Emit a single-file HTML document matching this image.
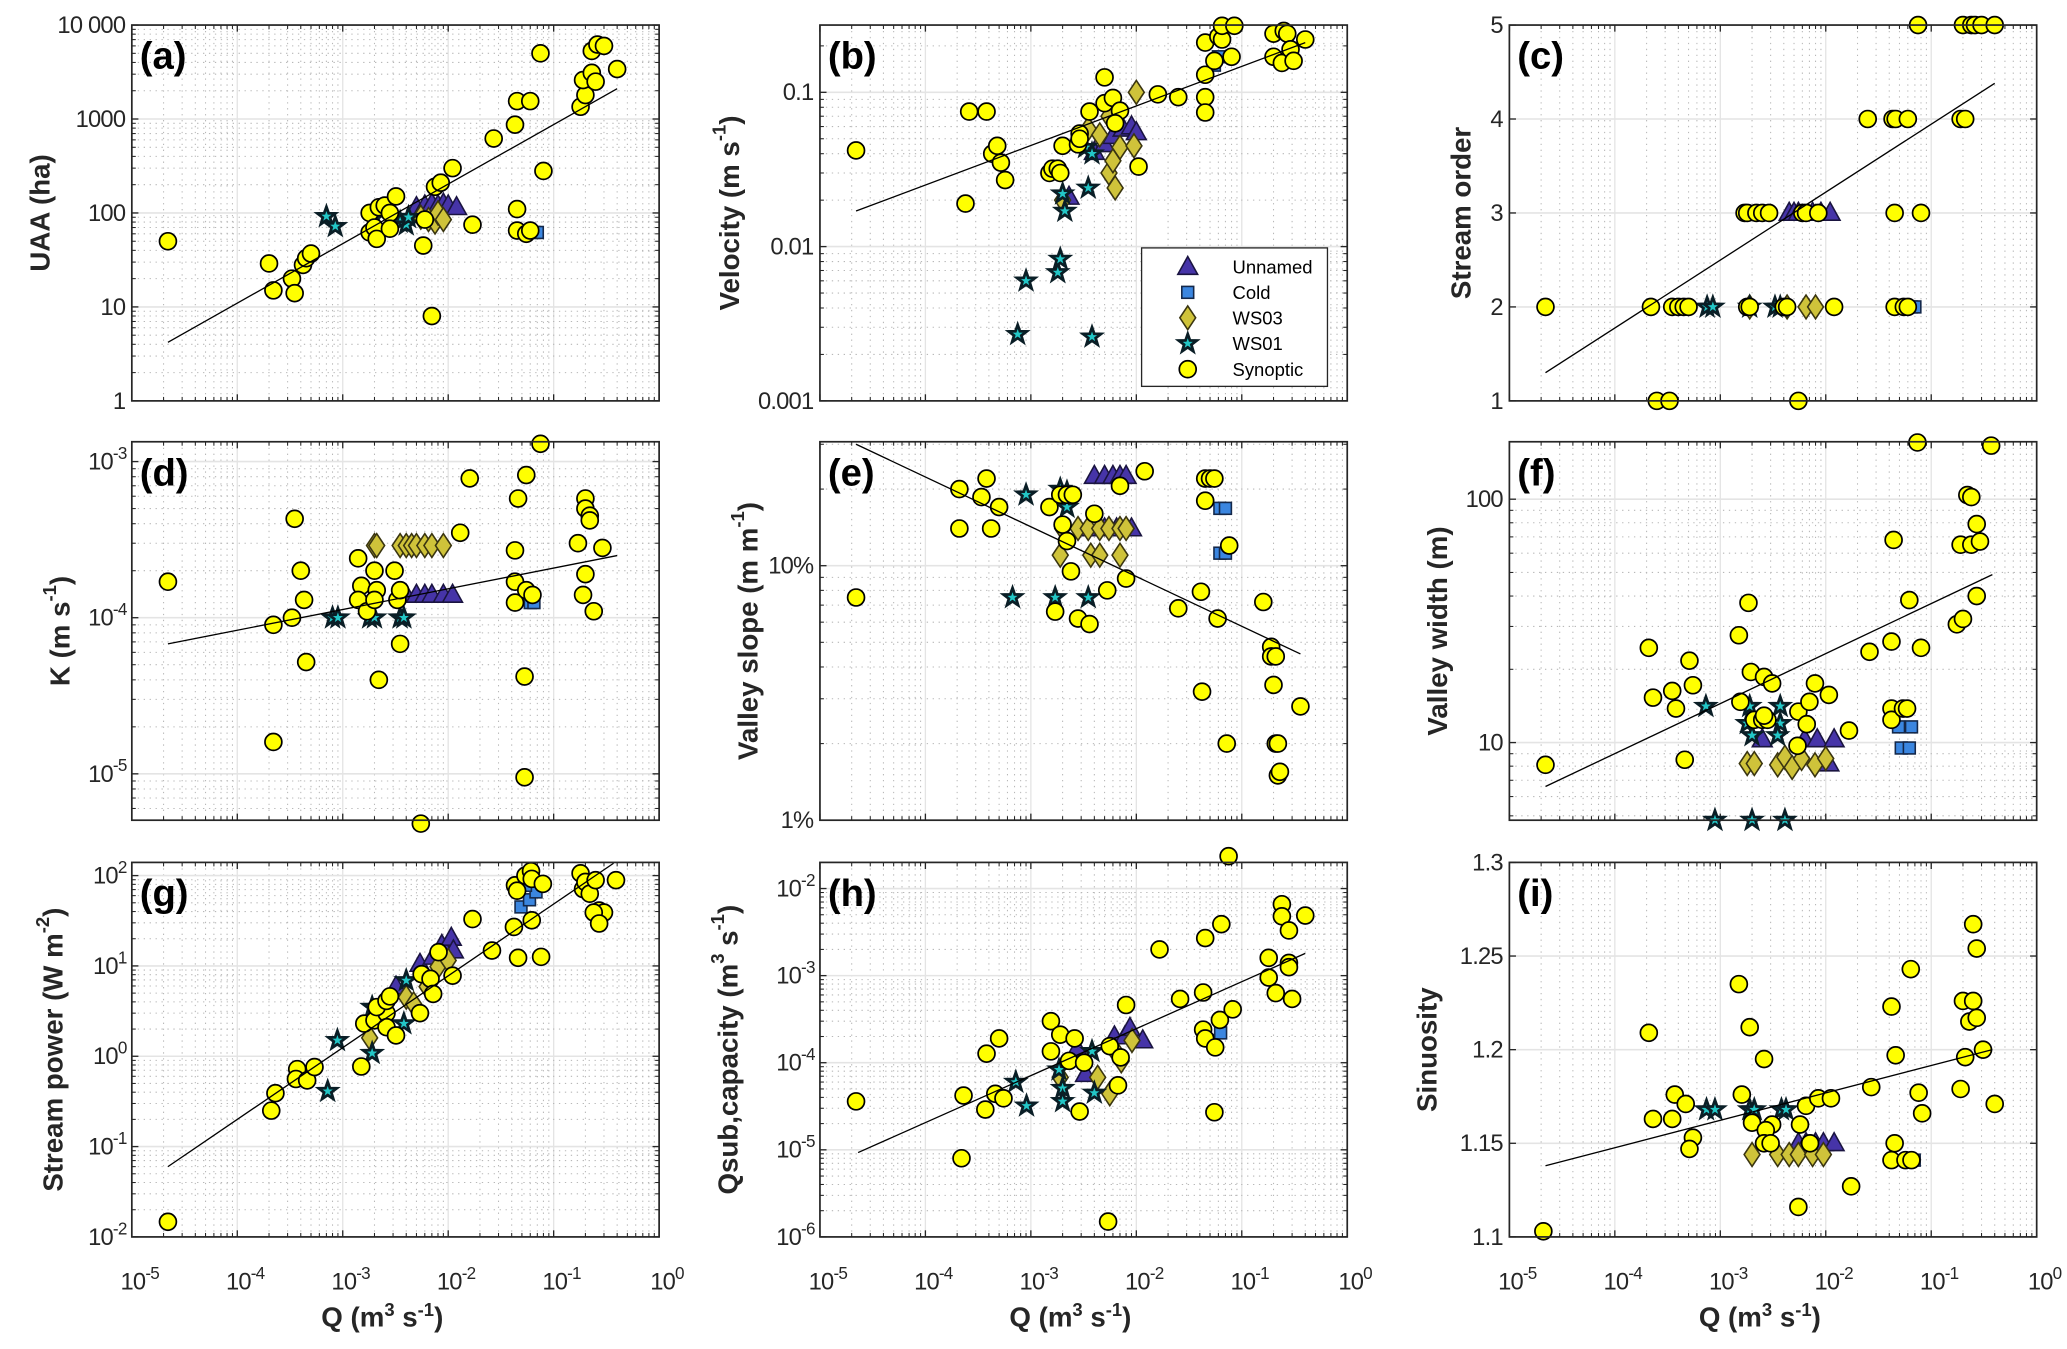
<!DOCTYPE html>
<html><head><meta charset="utf-8"><style>
html,body{margin:0;padding:0;background:#fff;}
svg{display:block;font-family:"Liberation Sans",Arial,sans-serif;}
</style></head><body>
<svg id="fig" width="2067" height="1349" viewBox="0 0 1568 1023" preserveAspectRatio="none" xmlns="http://www.w3.org/2000/svg">
<rect x="0" y="0" width="1568" height="1023" fill="#fff"/>
</svg>
<script>
// ---------- DATA (Q in m3/s, y in panel units) ----------
const aSyn=[[2.2e-5,50],[2.0e-4,29],[2.2e-4,15],[3.3e-4,20],[3.5e-4,14],[4.2e-4,28],[4.5e-4,33],[5e-4,37],[1.8e-3,100],[1.8e-3,62],[2.0e-3,70],[2.1e-3,53],[2.2e-3,115],[2.5e-3,120],[2.8e-3,100],[2.8e-3,68],[3.2e-3,150],[5.8e-3,45],[6e-3,85],[7e-3,8],[7.5e-3,190],[8.5e-3,210],[1.1e-2,300],[1.7e-2,75],[2.7e-2,620],[4.3e-2,870],[4.5e-2,1550],[6.0e-2,1550],[4.5e-2,65],[4.5e-2,110],[5.5e-2,60],[6.0e-2,65],[7.5e-2,5000],[8e-2,280],[0.18,1350],[0.2,1800],[0.19,2600],[0.23,3100],[0.25,2500],[0.23,5300],[0.26,6200],[0.3,6000],[0.4,3400]];
const aUnn=[[5e-3,115],[6e-3,120],[7e-3,125],[8e-3,120],[9e-3,125],[1.0e-2,120],[1.2e-2,115]];
const aWS03=[[5.5e-3,90],[6.5e-3,85],[7.5e-3,80],[8e-3,100],[9e-3,85]];
const aWS01=[[7e-4,92],[8.5e-4,72],[2e-3,90],[3.5e-3,80],[4e-3,75],[4.2e-3,90]];
const aCold=[[6.5e-2,62],[7e-2,62]];
const aFit=[[2.2e-5,4.2],[0.4,2100]];

const bSyn=[[2.2e-5,0.042],[2.4e-4,0.019],[2.6e-4,0.075],[3.8e-4,0.075],[4.3e-4,0.040],[4.8e-4,0.045],[5.2e-4,0.035],[5.7e-4,0.027],[1.5e-3,0.030],[1.6e-3,0.032],[1.8e-3,0.032],[1.9e-3,0.030],[2.0e-3,0.045],[2.8e-3,0.046],[2.9e-3,0.054],[2.9e-3,0.050],[3.6e-3,0.075],[5.0e-3,0.125],[5.0e-3,0.085],[6.0e-3,0.092],[7.0e-3,0.076],[6.3e-3,0.063],[1.05e-2,0.033],[1.6e-2,0.097],[2.5e-2,0.093],[4.5e-2,0.093],[4.5e-2,0.074],[4.5e-2,0.130],[4.5e-2,0.21],[6.0e-2,0.23],[5.5e-2,0.16],[6.5e-2,0.22],[6.5e-2,0.27],[8.0e-2,0.17],[8.5e-2,0.27],[0.2,0.24],[0.2,0.17],[0.24,0.155],[0.25,0.25],[0.27,0.24],[0.29,0.19],[0.31,0.16],[0.4,0.22]];
const bUnn=[[2.3e-3,0.021],[4e-3,0.041],[5e-3,0.046],[6e-3,0.052],[7.5e-3,0.058],[9e-3,0.06],[1.0e-2,0.055]];
const bWS03=[[2e-3,0.02],[3.5e-3,0.058],[4.5e-3,0.053],[5.5e-3,0.03],[6e-3,0.036],[6.3e-3,0.024],[7.0e-3,0.044],[9.5e-3,0.045],[1.0e-2,0.10],[5.5e-3,0.07]];
const bWS01=[[7.5e-4,0.0027],[9e-4,0.006],[1.8e-3,0.0068],[1.9e-3,0.0083],[2.1e-3,0.017],[2.0e-3,0.022],[3.3e-3,0.044],[3.5e-3,0.024],[3.8e-3,0.0026],[3.8e-3,0.04]];
const bCold=[[5.5e-2,0.15],[6e-2,0.17]];
const bFit=[[2.2e-5,0.017],[0.4,0.21]];

const cSyn=[[2.2e-5,2],[2.2e-4,2],[3.5e-4,2],[4.0e-4,2],[4.5e-4,2],[5e-4,2],[1.8e-3,2],[1.9e-3,2],[4.0e-3,2],[4.3e-3,2],[1.2e-2,2],[4.5e-2,2],[5.5e-2,2],[6e-2,2],[2.5e-4,1],[3.3e-4,1],[5.5e-3,1],[1.7e-3,3],[1.8e-3,3],[2.2e-3,3],[2.5e-3,3],[2.9e-3,3],[6e-3,3],[6.5e-3,3],[8.5e-3,3],[4.5e-2,3],[8e-2,3],[2.5e-2,4],[4.3e-2,4],[4.6e-2,4],[6e-2,4],[0.19,4],[0.21,4],[7.5e-2,5],[0.2,5],[0.24,5],[0.26,5],[0.3,5],[0.4,5]];
const cUnn=[[4.5e-3,3],[5e-3,3],[5.5e-3,3],[7.5e-3,3],[9e-3,3],[1.1e-2,3]];
const cWS03=[[1.9e-3,2],[4.3e-3,2],[6.5e-3,2],[8e-3,2]];
const cWS01=[[7.5e-4,2],[8.5e-4,2],[1.9e-3,2],[3.3e-3,2],[3.7e-3,2]];
const cCold=[[6.5e-2,2],[7e-2,2]];
const cFit=[[2.2e-5,1.3],[0.4,4.38]];

const dSyn=[[2.2e-5,1.7e-4],[2.2e-4,9e-5],[2.2e-4,1.6e-5],[3.3e-4,1.0e-4],[3.5e-4,4.3e-4],[4.0e-4,2.0e-4],[4.3e-4,1.3e-4],[4.5e-4,5.2e-5],[1.4e-3,2.4e-4],[1.5e-3,1.6e-4],[1.4e-3,1.3e-4],[1.7e-3,1.1e-4],[2.0e-3,2.0e-4],[2.1e-3,1.5e-4],[2.0e-3,1.3e-4],[2.2e-3,4e-5],[3.1e-3,2e-4],[3.3e-3,1.3e-4],[3.5e-3,1.5e-4],[3.5e-3,6.8e-5],[5.5e-3,4.8e-6],[1.6e-2,7.8e-4],[1.3e-2,3.5e-4],[4.3e-2,2.7e-4],[4.3e-2,1.7e-4],[4.3e-2,1.25e-4],[4.6e-2,5.8e-4],[5.5e-2,8.2e-4],[5.3e-2,4.2e-5],[5.3e-2,9.5e-6],[5.5e-2,1.5e-4],[6.3e-2,1.4e-4],[7.5e-2,1.3e-3],[0.17,3e-4],[0.2,1.9e-4],[0.19,1.4e-4],[0.2,5.8e-4],[0.2,5e-4],[0.22,4.5e-4],[0.22,4.2e-4],[0.24,1.1e-4],[0.29,2.8e-4]];
const dUnn=[[4e-3,1.4e-4],[5e-3,1.4e-4],[6e-3,1.4e-4],[7e-3,1.4e-4],[9e-3,1.4e-4],[1.1e-2,1.4e-4]];
const dWS03=[[2e-3,2.9e-4],[2.1e-3,2.9e-4],[3.5e-3,2.9e-4],[4e-3,2.9e-4],[4.5e-3,2.9e-4],[5e-3,2.9e-4],[6e-3,2.9e-4],[7e-3,2.9e-4],[9e-3,2.9e-4]];
const dWS01=[[8e-4,1e-4],[9e-4,1e-4],[1.8e-3,1e-4],[2e-3,1e-4],[3.5e-3,1e-4],[3.8e-3,1e-4]];
const dCold=[[6e-2,1.25e-4],[6.5e-2,1.25e-4]];
const dFit=[[2.2e-5,6.8e-5],[0.4,2.5e-4]];

const eSyn=[[2.2e-5,7.5],[2.1e-4,20],[3.8e-4,22],[3.4e-4,18.6],[5e-4,17],[2.1e-4,14],[4.2e-4,14],[1.5e-3,17],[1.9e-3,19],[2.2e-3,19],[2.5e-3,19],[4.0e-3,16],[2.0e-3,14.5],[2.2e-3,12.5],[2.4e-3,9.5],[1.7e-3,6.6],[2.8e-3,6.2],[3.6e-3,5.9],[5.3e-3,8],[8e-3,8.9],[7e-3,20.6],[1.2e-2,23.5],[4.5e-2,22],[5.0e-2,22],[5.5e-2,22],[4.5e-2,18],[7.6e-2,12],[4.1e-2,7.9],[2.5e-2,6.8],[5.9e-2,6.2],[4.2e-2,3.2],[7.2e-2,2.0],[0.16,7.2],[0.19,4.8],[0.19,4.4],[0.21,4.4],[0.2,3.4],[0.36,2.8],[0.21,2.0],[0.22,2.0],[0.22,1.5],[0.23,1.55]];
const eUnn=[[4e-3,22.5],[5e-3,22.5],[6e-3,22.5],[7e-3,22.5],[8e-3,22.5],[3.5e-3,14],[5e-3,14],[6.5e-3,14],[8e-3,14],[9e-3,14]];
const eWS03=[[2e-3,14],[2.8e-3,14],[3.5e-3,14],[4.5e-3,14],[5.5e-3,14],[7e-3,14],[8e-3,14],[1.9e-3,11],[3.7e-3,11],[4.5e-3,11],[7e-3,11]];
const eWS01=[[9e-4,19],[1.9e-3,20],[2.2e-3,19.5],[2.2e-3,17],[6.7e-4,7.5],[1.7e-3,7.5],[3.5e-3,7.5]];
const eCold=[[6.2e-2,16.8],[7e-2,16.8],[6.2e-2,11.2],[7e-2,11.2]];
const eFit=[[2.2e-5,30],[0.36,4.5]];

const fSyn=[[2.2e-5,8.1],[2.1e-4,24.5],[2.3e-4,15.3],[3.5e-4,16.3],[3.8e-4,13.8],[5.1e-4,21.7],[5.5e-4,17.2],[4.6e-4,8.5],[1.5e-3,27.6],[1.85e-3,37.5],[1.55e-3,14.7],[1.95e-3,19.5],[2.6e-3,18.6],[3.1e-3,17.5],[2.1e-3,12.4],[2.5e-3,12.4],[2.8e-3,12.4],[2.6e-3,12.9],[5.5e-3,13.4],[7e-3,14.7],[6.6e-3,11.9],[5.4e-3,9.7],[7.9e-3,17.5],[1.07e-2,15.7],[1.66e-2,11.2],[2.6e-2,23.6],[4.2e-2,26],[4.4e-2,68],[4.2e-2,13.8],[4.2e-2,12.4],[5.4e-2,13.8],[5.9e-2,13.8],[6.2e-2,38.5],[7.4e-2,171],[8e-2,24.5],[0.175,30.6],[0.2,32.2],[0.22,104],[0.24,102],[0.19,65],[0.24,65],[0.29,67],[0.27,79],[0.27,40],[0.37,166]];
const fUnn=[[2.5e-3,10.3],[6.3e-3,10.3],[8.3e-3,10.3],[1.2e-2,10.3],[1.07e-2,8.2]];
const fWS03=[[1.8e-3,8.2],[2.1e-3,8.2],[3.5e-3,8.1],[4.1e-3,8.7],[4.8e-3,7.9],[5.9e-3,8.6],[7.9e-3,8.1],[1.0e-2,8.6]];
const fWS01=[[7.3e-4,14.1],[1.9e-3,14.1],[3.7e-3,14.1],[1.8e-3,12],[3.7e-3,12],[2.0e-3,10.7],[3.5e-3,10.7],[8.9e-4,4.8],[2.0e-3,4.8],[4.1e-3,4.8]];
const fCold=[[4.9e-2,11.6],[6.5e-2,11.6],[5.2e-2,9.5],[6.2e-2,9.5]];
const fFit=[[2.2e-5,6.6],[0.38,49]];

const gSyn=[[2.2e-5,0.0147],[2.1e-4,0.25],[2.3e-4,0.39],[3.7e-4,0.72],[3.6e-4,0.56],[4.6e-4,0.54],[5.4e-4,0.76],[1.5e-3,0.77],[1.6e-3,2.3],[2.0e-3,2.5],[2.6e-3,3.0],[2.1e-3,3.5],[2.6e-3,4.1],[2.8e-3,4.6],[2.6e-3,2.1],[3.2e-3,1.7],[5.4e-3,3.0],[5.6e-3,8.1],[6.8e-3,7.2],[7.2e-3,4.9],[8.1e-3,14.2],[1.1e-2,7.8],[1.7e-2,33],[2.6e-2,14.8],[4.2e-2,27],[4.6e-2,12.3],[4.3e-2,78],[4.5e-2,68],[5.4e-2,100],[6.1e-2,112],[6.2e-2,92],[6.2e-2,32],[7.6e-2,12.6],[7.9e-2,81],[0.18,106],[0.19,71],[0.2,85],[0.22,63],[0.25,89],[0.27,41],[0.3,39],[0.24,39],[0.27,29.5],[0.39,89]];
const gUnn=[[3.2e-3,5.9],[5.4e-3,10.5],[7.2e-3,12.6],[8.7e-3,17],[1.07e-2,20.4],[1.12e-2,14.8]];
const gWS03=[[1.8e-3,1.6],[4e-3,4.5],[4.7e-3,3.8],[6.3e-3,5.9],[8e-3,9.8],[1e-2,11.5]];
const gWS01=[[7.2e-4,0.41],[8.9e-4,1.5],[1.9e-3,1.08],[3.8e-3,2.3],[4e-3,6.9],[1.9e-3,3.5]];
const gCold=[[4.9e-2,45],[5.9e-2,54],[6.8e-2,66],[5.4e-2,78]];
const gFit=[[2.2e-5,0.06],[0.37,137]];

const hSyn=[[2.2e-5,3.6e-5],[2.2e-4,8e-6],[2.3e-4,4.2e-5],[3.7e-4,2.9e-5],[3.8e-4,1.27e-4],[4.6e-4,4.4e-5],[5.5e-4,3.9e-5],[5e-4,1.9e-4],[1.55e-3,3e-4],[1.55e-3,1.35e-4],[1.9e-3,2.1e-4],[2.6e-3,1.9e-4],[2.3e-3,1.05e-4],[3.2e-3,1e-4],[2.9e-3,2.75e-5],[5.4e-3,1.5e-6],[5.6e-3,1.55e-4],[7.1e-3,1.15e-4],[6.7e-3,5.5e-5],[8e-3,4.6e-4],[1.66e-2,2e-3],[2.6e-2,5.4e-4],[4.3e-2,6.4e-4],[4.5e-2,2.7e-3],[6.4e-2,3.9e-3],[7.5e-2,2.35e-2],[4.3e-2,2.4e-4],[4.5e-2,1.9e-4],[5.5e-2,2.7e-5],[5.6e-2,1.5e-4],[6.2e-2,3.1e-4],[8.2e-2,4.1e-4],[0.18,9.5e-4],[0.21,6.3e-4],[0.18,1.6e-3],[0.24,6.6e-3],[0.24,4.8e-3],[0.28,3.3e-3],[0.28,1.4e-3],[0.28,1.25e-3],[0.3,5.4e-4],[0.4,4.9e-3]];
const hUnn=[[2.75e-3,1.45e-4],[3.3e-3,7.4e-5],[6.2e-3,2e-4],[7.8e-3,2e-4],[8.7e-3,2.5e-4],[1.15e-2,1.8e-4]];
const hWS03=[[1.9e-3,6.8e-5],[4.3e-3,6.8e-5],[5.6e-3,4.4e-5],[6.2e-3,1.4e-4],[7.2e-3,1.05e-4],[9.1e-3,1.8e-4]];
const hWS01=[[7.2e-4,6e-5],[9.1e-4,3.2e-5],[1.85e-3,8.3e-5],[2e-3,5.1e-5],[2e-3,3.6e-5],[3.8e-3,1.35e-4],[4e-3,4.5e-5]];
const hCold=[[5.3e-2,1.8e-4],[6.3e-2,2.2e-4]];
const hFit=[[2.3e-5,9.3e-6],[0.4,1.8e-3]];

const iSyn=[[2.1e-5,1.103],[2.1e-4,1.209],[2.3e-4,1.163],[3.5e-4,1.163],[3.7e-4,1.176],[4.7e-4,1.171],[5.5e-4,1.153],[5.1e-4,1.147],[1.5e-3,1.235],[1.9e-3,1.212],[1.6e-3,1.176],[2e-3,1.161],[3.1e-3,1.16],[2.7e-3,1.157],[5.7e-3,1.16],[6.5e-3,1.17],[2.6e-3,1.195],[2.6e-3,1.15],[3e-3,1.15],[5.5e-3,1.116],[7.1e-3,1.15],[8.5e-3,1.174],[1.12e-2,1.174],[1.74e-2,1.127],[2.7e-2,1.18],[4.2e-2,1.223],[4.6e-2,1.197],[4.5e-2,1.15],[4.2e-2,1.141],[5.7e-2,1.141],[6.5e-2,1.141],[6.4e-2,1.243],[7.6e-2,1.177],[8.2e-2,1.166],[0.19,1.179],[0.2,1.226],[0.25,1.226],[0.23,1.215],[0.27,1.217],[0.21,1.196],[0.31,1.2],[0.25,1.267],[0.27,1.254],[0.4,1.171]];
const iUnn=[[5.5e-3,1.15],[6.5e-3,1.15],[8e-3,1.15],[9.5e-3,1.15],[1.2e-2,1.15]];
const iWS03=[[2e-3,1.144],[3.5e-3,1.144],[4.5e-3,1.144],[5.5e-3,1.144],[7.5e-3,1.144],[9.5e-3,1.144]];
const iWS01=[[7.4e-4,1.168],[8.9e-4,1.168],[1.9e-3,1.168],[2.1e-3,1.168],[3.8e-3,1.168],[4.2e-3,1.168]];
const iCold=[[6.9e-2,1.141]];
const iFit=[[2.2e-5,1.138],[0.38,1.2]];

const xTickVals=[1e-5,1e-4,1e-3,1e-2,1e-1,1];
const xTickLabels=['10^-5','10^-4','10^-3','10^-2','10^-1','10^0'];
const aTicks=[1,10,100,1000,10000], aTickLabels=['1','10','100','1000','10 000'];
const bTicks=[0.001,0.01,0.1], bTickLabels=['0.001','0.01','0.1'];
const cTicks=[1,2,3,4,5], cTickLabels=['1','2','3','4','5'];
const dTicks=[1e-5,1e-4,1e-3], dTickLabels=['10^-5','10^-4','10^-3'];
const eTicks=[1,10], eTickLabels=['1%','10%'];
const fTicks=[10,100], fTickLabels=['10','100'];
const gTicks=[1e-2,1e-1,1,10,100], gTickLabels=['10^-2','10^-1','10^0','10^1','10^2'];
const hTicks=[1e-6,1e-5,1e-4,1e-3,1e-2], hTickLabels=['10^-6','10^-5','10^-4','10^-3','10^-2'];
const iTicks=[1.1,1.15,1.2,1.25,1.3], iTickLabels=['1.1','1.15','1.2','1.25','1.3'];

// ---------- LAYOUT ----------
const NS='http://www.w3.org/2000/svg';
const svg=document.getElementById('fig');
const COLS=[100,622,1145], W=400, ROWS=[19,335,654], HS=[285,287,284];
const panels=[
 {id:'a',c:0,r:0,type:'log',min:0,max:4,ticks:aTicks,tl:aTickLabels,s:[aUnn,aCold,aWS03,aWS01,aSyn],fit:aFit,yl:[['UAA (ha)']],ylx:30},
 {id:'b',c:1,r:0,type:'log',min:-3,max:-0.564,ticks:bTicks,tl:bTickLabels,s:[bUnn,bCold,bWS03,bWS01,bSyn],fit:bFit,yl:[['Velocity (m s'],['-1',1],[')']],ylx:553},
 {id:'c',c:2,r:0,type:'lin',min:1,max:5,ticks:cTicks,tl:cTickLabels,s:[cUnn,cCold,cWS03,cWS01,cSyn],fit:cFit,yl:[['Stream order']],ylx:1108},
 {id:'d',c:0,r:1,type:'log',min:-5.297,max:-2.873,ticks:dTicks,tl:dTickLabels,s:[dUnn,dCold,dWS03,dWS01,dSyn],fit:dFit,yl:[['K (m s'],['-1',1],[')']],ylx:45},
 {id:'e',c:1,r:1,type:'log',min:0,max:1.487,ticks:eTicks,tl:eTickLabels,s:[eUnn,eCold,eWS03,eWS01,eSyn],fit:eFit,yl:[['Valley slope (m m'],['-1',1],[')']],ylx:567},
 {id:'f',c:2,r:1,type:'log',min:0.681,max:2.236,ticks:fTicks,tl:fTickLabels,s:[fUnn,fCold,fWS03,fWS01,fSyn],fit:fFit,yl:[['Valley width (m)']],ylx:1090},
 {id:'g',c:0,r:2,type:'log',min:-2,max:2.146,ticks:gTicks,tl:gTickLabels,s:[gUnn,gCold,gWS03,gWS01,gSyn],fit:gFit,yl:[['Stream power (W m'],['-2',1],[')']],ylx:40},
 {id:'h',c:1,r:2,type:'log',min:-6,max:-1.70,ticks:hTicks,tl:hTickLabels,s:[hUnn,hCold,hWS03,hWS01,hSyn],fit:hFit,yl:[['Qsub,capacity (m'],['3',1],[' s'],['-1',1],[')']],ylx:552},
 {id:'i',c:2,r:2,type:'lin',min:1.1,max:1.3,ticks:iTicks,tl:iTickLabels,s:[iUnn,iCold,iWS03,iWS01,iSyn],fit:iFit,yl:[['Sinuosity']],ylx:1082}
];
const seriesNames=['unnamed','cold','ws03','ws01','synoptic'];

function mk(tag,attrs,parent){const e=document.createElementNS(NS,tag);for(const k in attrs)e.setAttribute(k,attrs[k]);(parent||svg).appendChild(e);return e;}
function xScale(L,q){return L+(Math.log10(q)+5)/5*W;}
function yScale(p,T,H,v){const t=p.type==='log'?Math.log10(v):v;return T+H*(1-(t-p.min)/(p.max-p.min));}

function addLabel(parent,x,y,label,size,anchor,extra){
  const t=mk('text',Object.assign({x:x,y:y,'font-size':size,'text-anchor':anchor,fill:'#262626'},extra||{}),parent);
  const parts=label.split('^');
  const base=document.createElementNS(NS,'tspan');base.textContent=parts[0];t.appendChild(base);
  if(parts.length>1){const sp=document.createElementNS(NS,'tspan');sp.setAttribute('dy','-8');sp.setAttribute('font-size',size*0.72);sp.textContent=parts[1];t.appendChild(sp);}
  return t;
}
function marker(g,k,x,y){
  let e;
  if(k===4){e=mk('circle',{cx:x,cy:y,r:6.4,fill:'#ffff00',stroke:'#000','stroke-width':1.3},g);}
  else if(k===0){e=mk('polygon',{points:`${x},${y-8} ${x+7.5},${y+5.5} ${x-7.5},${y+5.5}`,fill:'#4634a8',stroke:'#1a1440','stroke-width':1.2},g);}
  else if(k===1){e=mk('rect',{x:x-4.5,y:y-4.5,width:9,height:9,fill:'#3b86e0',stroke:'#14284a','stroke-width':1.2},g);}
  else if(k===2){e=mk('polygon',{points:`${x},${y-9} ${x+6},${y} ${x},${y+9} ${x-6},${y}`,fill:'#cfc33a',stroke:'#3a3510','stroke-width':1.2},g);}
  else {let pts=[];for(let i=0;i<10;i++){const a=-Math.PI/2+i*Math.PI/5;const rr=i%2?2.9:7.2;pts.push((x+rr*Math.cos(a)).toFixed(2)+','+(y+rr*Math.sin(a)).toFixed(2));}
    e=mk('polygon',{points:pts.join(' '),fill:'#23c7c7',stroke:'#0a1e26','stroke-width':2.1,'stroke-linejoin':'miter'},g);}
  return e;
}

panels.forEach(p=>{
  const L=COLS[p.c],T=ROWS[p.r],H=HS[p.r];
  const g=mk('g',{});
  
  
  mk('rect',{x:L,y:T,width:W,height:H,fill:'#fff'},g);
  const grid=mk('g',{},g);
  
  
  for(let d=-5;d<0;d++){for(let k=2;k<=9;k++){const x=xScale(L,k*Math.pow(10,d));mk('line',{x1:x,y1:T,x2:x,y2:T+H,stroke:'#b8b8b8','stroke-width':0.8,'stroke-dasharray':'1,3.5'},grid);}}
  xTickVals.forEach(v=>{const x=xScale(L,v);mk('line',{x1:x,y1:T,x2:x,y2:T+H,stroke:'#e4e4e4','stroke-width':1},grid);});
  if(p.type==='log'){
    for(let d=Math.floor(p.min);d<Math.ceil(p.max);d++){for(let k=2;k<=9;k++){const v=k*Math.pow(10,d);const lv=Math.log10(v);if(lv<=p.min||lv>=p.max)continue;const y=yScale(p,T,H,v);mk('line',{x1:L,y1:y,x2:L+W,y2:y,stroke:'#b8b8b8','stroke-width':0.8,'stroke-dasharray':'1,3.5'},grid);
      mk('line',{x1:L,y1:y,x2:L+3,y2:y,stroke:'#262626','stroke-width':0.8},g);mk('line',{x1:L+W,y1:y,x2:L+W-3,y2:y,stroke:'#262626','stroke-width':0.8},g);}}
  }
  p.ticks.forEach((v,i)=>{const y=yScale(p,T,H,v);
    mk('line',{x1:L,y1:y,x2:L+W,y2:y,stroke:'#e4e4e4','stroke-width':1.2},grid);
    mk('line',{x1:L,y1:y,x2:L+5,y2:y,stroke:'#262626','stroke-width':1},g);
    mk('line',{x1:L+W,y1:y,x2:L+W-5,y2:y,stroke:'#262626','stroke-width':1},g);
    const hasExp=p.tl[i].indexOf('^')>=0;
    const lab=addLabel(g,L-(hasExp?16:5),y+6,p.tl[i],18,'end',{'letter-spacing':'-0.6'});
    
    
    if(hasExp){lab.setAttribute('x',L-4);}
  });
  for(let d=-5;d<0;d++){for(let k=2;k<=9;k++){const x=xScale(L,k*Math.pow(10,d));mk('line',{x1:x,y1:T+H,x2:x,y2:T+H-3,stroke:'#262626','stroke-width':0.8},g);mk('line',{x1:x,y1:T,x2:x,y2:T+3,stroke:'#262626','stroke-width':0.8},g);}}
  xTickVals.forEach((v,i)=>{const x=xScale(L,v);
    mk('line',{x1:x,y1:T+H,x2:x,y2:T+H-5,stroke:'#262626','stroke-width':1},g);
    mk('line',{x1:x,y1:T,x2:x,y2:T+5,stroke:'#262626','stroke-width':1},g);
    if(p.r===2){const lab=addLabel(g,x+6,T+H+40,xTickLabels[i],18,'middle',{'letter-spacing':'-0.6'});
      
      }
  });
  p.s.forEach((arr,k)=>{
    const sg=mk('g',{},g);
    
    
    arr.forEach(pt=>{const m=marker(sg,k,xScale(L,pt[0]),yScale(p,T,H,pt[1]));
      
      });
  });
  const fl=mk('line',{x1:xScale(L,p.fit[0][0]),y1:yScale(p,T,H,p.fit[0][1]),x2:xScale(L,p.fit[1][0]),y2:yScale(p,T,H,p.fit[1][1]),stroke:'#000','stroke-width':1},g);
  
  
  const bx=mk('rect',{x:L,y:T,width:W,height:H,fill:'none',stroke:'#262626','stroke-width':1.3},g);
  
  
  const pl=mk('text',{x:L+6,y:T+33,'font-size':29,'font-weight':'bold',fill:'#000'},g);
  pl.textContent='('+p.id+')';
  
  
  const yc=T+H/2;
  const yl=mk('text',{x:p.ylx,y:yc,'font-size':21,'font-weight':'bold','text-anchor':'middle','dominant-baseline':'central',fill:'#262626',transform:`rotate(-90 ${p.ylx} ${yc})`},g);
  
  
  p.yl.forEach((seg,j)=>{const ts=document.createElementNS(NS,'tspan');ts.textContent=seg[0];
    if(seg[1]){ts.setAttribute('font-size','14');ts.setAttribute('dy','-8');}
    else if(j>0&&p.yl[j-1][1]){ts.setAttribute('dy','8');}
    yl.appendChild(ts);});
  if(p.r===2){
    const xl=mk('text',{x:L+W/2-10,y:1006,'font-size':21,'font-weight':'bold','text-anchor':'middle',fill:'#262626'},g);
    
    
    [['Q (m'],['3',1],[' s'],['-1',1],[')']].forEach((seg,j,all)=>{const ts=document.createElementNS(NS,'tspan');ts.textContent=seg[0];
      if(seg[1]){ts.setAttribute('font-size','14');ts.setAttribute('dy','-8');}else if(j>0&&all[j-1][1]){ts.setAttribute('dy','8');}
      xl.appendChild(ts);});
  }
});

const lg=mk('g',{});


mk('rect',{x:866,y:188,width:141,height:105,fill:'#fff',stroke:'#262626','stroke-width':1},lg);
const legNames=['Unnamed','Cold','WS03','WS01','Synoptic'];
const legY=[202.5,221.7,241,260.5,280];
legNames.forEach((n,k)=>{
  const eg=mk('g',{},lg);
  
  
  marker(eg,k,901,legY[k]);
  const t=mk('text',{x:935,y:legY[k]+5,'font-size':14,fill:'#000'},eg);
  t.textContent=n;
});
</script>
</body></html>
